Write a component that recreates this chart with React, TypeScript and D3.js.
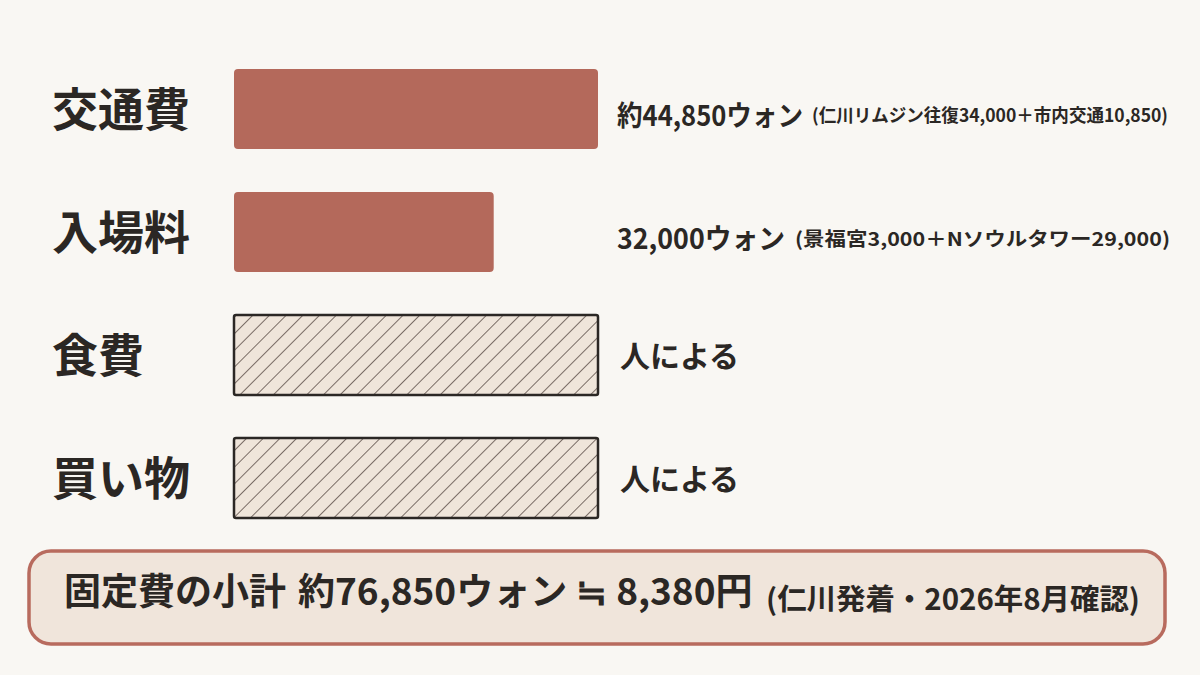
import * as d3 from "d3";

// Fixed costs of a trip out of Incheon (Korean won)
const categories = ["交通費", "入場料", "食費", "買い物"];
const amounts: (number | null)[] = [44850, 32000, null, null];
const mainLabels = ["約44,850ウォン", "32,000ウォン", "人による", "人による"];
const noteLabels = [
  "(仁川リムジン往復34,000＋市内交通10,850)",
  "(景福宮3,000＋Nソウルタワー29,000)",
  "",
  "",
];
const summaryTitle = "固定費の小計";
const summaryWon = "約76,850ウォン";
const summaryYen = "8,380円";
const summaryNote = "(仁川発着・2026年8月確認)";

const W = 1200;
const H = 675;
const FONT = "'Noto Sans CJK JP', 'Noto Sans', sans-serif";
const INK = "#2b2724";
const BAR = "#b4695b";
const BG = "#f9f7f3";

// the reference face is narrower than Noto, so squeeze the label runs
const mainWidths = [186, 168, 0, 0];
const noteX = [812, 795, 0, 0];
const noteWidths = [356, 375, 0, 0];
const noteSizes = [18, 19, 0, 0];

export default function App() {
  const maxAmount = d3.max(amounts, (d) => d ?? 0) ?? 0;

  const x = d3.scaleLinear().domain([0, maxAmount]).range([234, 598]);
  const y = d3
    .scaleBand<string>()
    .domain(categories)
    .range([47.5, 539.5])
    .paddingInner(0.35)
    .paddingOuter(0.175);

  return (
    <svg
      width={W}
      height={H}
      style={{ position: "fixed", left: 0, top: 0, background: BG }}
      fontFamily={FONT}
    >
      <defs>
        <pattern
          id="hatch"
          width="11.8"
          height="11.8"
          patternUnits="userSpaceOnUse"
          patternTransform="rotate(45)"
        >
          <rect width="11.8" height="11.8" fill="#efe5da" />
          <line x1="0" y1="0" x2="0" y2="11.8" stroke="#3a2c27" strokeWidth="1.3" />
        </pattern>
      </defs>
      <rect width={W} height={H} fill={BG} />

      {categories.map((c, i) => {
        const y0 = y(c) ?? 0;
        const bw = y.bandwidth();
        const cy = y0 + bw / 2;
        const v = amounts[i];
        const hatched = v == null;
        const x1 = hatched ? x(maxAmount) : x(v as number);
        return (
          <g key={c}>
            <text
              x={52}
              y={cy}
              dy="0.36em"
              fontSize={46}
              fontWeight={700}
              fill={INK}
            >
              {c}
            </text>
            <rect
              x={x(0)}
              y={y0}
              width={x1 - x(0)}
              height={bw}
              rx={hatched ? 2 : 4}
              fill={hatched ? "url(#hatch)" : BAR}
              stroke={hatched ? INK : "none"}
              strokeWidth={hatched ? 2.5 : 0}
            />
            <text
              x={hatched ? 620 : 617}
              y={cy + (hatched ? 1 : 7)}
              dy="0.36em"
              fontSize={hatched ? 30 : 28}
              fontWeight={700}
              fill={INK}
              {...(mainWidths[i]
                ? { textLength: mainWidths[i], lengthAdjust: "spacingAndGlyphs" }
                : {})}
            >
              {mainLabels[i]}
            </text>
            {noteLabels[i] && (
              <text
                x={noteX[i]}
                y={cy + 7}
                dy="0.36em"
                fontSize={noteSizes[i]}
                fontWeight={700}
                fill={INK}
                textLength={noteWidths[i]}
                lengthAdjust="spacingAndGlyphs"
              >
                {noteLabels[i]}
              </text>
            )}
          </g>
        );
      })}

      <rect
        x={29}
        y={551}
        width={1136}
        height={93}
        rx={22}
        fill="#f0e5db"
        stroke="#b86b5e"
        strokeWidth={3.5}
      />
      <text x={64} y={599} dy="0.36em" fontWeight={700} fill={INK}>
        <tspan fontSize={37}>{summaryTitle}</tspan>
        <tspan fontSize={37} dx={12}>
          {summaryWon}
        </tspan>
        <tspan fontSize={37} dx={9}>
          ≒
        </tspan>
        <tspan fontSize={37} dx={9}>
          {summaryYen}
        </tspan>
      </text>
      <text
        x={766}
        y={600}
        dy="0.36em"
        fontSize={29}
        fontWeight={700}
        fill={INK}
        textLength={374}
        lengthAdjust="spacingAndGlyphs"
      >
        {summaryNote}
      </text>
    </svg>
  );
}
